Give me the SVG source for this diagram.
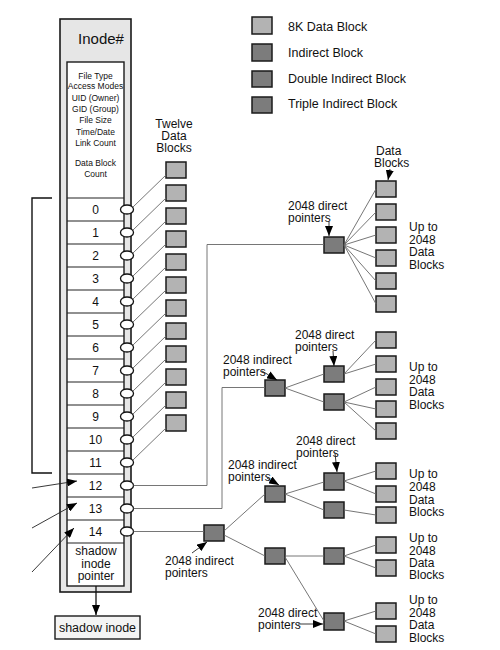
<svg xmlns="http://www.w3.org/2000/svg" width="500" height="650" viewBox="0 0 500 650">
<defs>
<style>
text{font-family:"Liberation Sans Narrow","Arial Narrow","Liberation Sans",Arial,sans-serif;fill:#111}
.lbl{font-size:12px}
.info{font-family:"Liberation Sans",Arial,sans-serif;font-size:8.5px;text-anchor:middle}
.num{font-family:"Liberation Sans",Arial,sans-serif;font-size:12px;text-anchor:middle}
.mid{text-anchor:middle}
.db{fill:#b3b3b3;stroke:#1a1a1a;stroke-width:1.5}
.ib{fill:#7c7c7c;stroke:#1a1a1a;stroke-width:1.5}
.ln{stroke:#666;stroke-width:0.9;fill:none}
.ar{stroke:#222;stroke-width:0.9;fill:none}
.ov{fill:#fff;stroke:#111;stroke-width:1.3}
.row{stroke:#222;stroke-width:1.2}
</style>
<marker id="ah" markerUnits="userSpaceOnUse" markerWidth="11" markerHeight="8" refX="10" refY="4" orient="auto">
<path d="M0,0 L10,4 L0,8 z" fill="#000"/>
</marker>
</defs>
<rect width="500" height="650" fill="#fff"/>

<!-- legend -->
<g id="legend">
<rect class="db" x="252" y="17" width="20" height="17"/>
<rect class="ib" x="252" y="44" width="20" height="17"/>
<rect class="ib" x="252" y="71" width="20" height="16"/>
<rect class="ib" x="252" y="97" width="20" height="16"/>
<text class="lbl" x="288" y="31" style="font-size:12.5px">8K Data Block</text>
<text class="lbl" x="288" y="57" style="font-size:12.5px">Indirect Block</text>
<text class="lbl" x="288" y="83" style="font-size:12.5px">Double Indirect Block</text>
<text class="lbl" x="288" y="108" style="font-size:12.5px">Triple Indirect Block</text>
</g>

<!-- inode -->
<g id="inode">
<rect x="60" y="19" width="71" height="573" fill="#e6e6e6" stroke="#1a1a1a" stroke-width="1.6"/>
<text x="101" y="44" class="mid" style="font-family:'Liberation Sans',Arial,sans-serif;font-size:15px">Inode#</text>
<rect x="67" y="62" width="57" height="524" fill="#fff" stroke="#1a1a1a" stroke-width="1.4"/>
<text class="info"><tspan x="95.5" y="79">File Type</tspan><tspan x="95.5" y="89">Access Modes</tspan><tspan x="95.5" y="101">UID (Owner)</tspan><tspan x="95.5" y="112">GID (Group)</tspan><tspan x="95.5" y="123">File Size</tspan><tspan x="95.5" y="135">Time/Date</tspan><tspan x="95.5" y="146">Link Count</tspan><tspan x="95.5" y="166">Data Block</tspan><tspan x="95.5" y="177">Count</tspan></text>
<g class="row">
<line x1="67" y1="198" x2="124" y2="198"/>
<line x1="67" y1="221" x2="124" y2="221"/>
<line x1="67" y1="244" x2="124" y2="244"/>
<line x1="67" y1="267" x2="124" y2="267"/>
<line x1="67" y1="290" x2="124" y2="290"/>
<line x1="67" y1="313" x2="124" y2="313"/>
<line x1="67" y1="336" x2="124" y2="336"/>
<line x1="67" y1="359" x2="124" y2="359"/>
<line x1="67" y1="382" x2="124" y2="382"/>
<line x1="67" y1="405" x2="124" y2="405"/>
<line x1="67" y1="428" x2="124" y2="428"/>
<line x1="67" y1="451" x2="124" y2="451"/>
<line x1="67" y1="474" x2="124" y2="474"/>
<line x1="67" y1="497" x2="124" y2="497"/>
<line x1="67" y1="520" x2="124" y2="520"/>
<line x1="67" y1="543" x2="124" y2="543"/>
</g>
<text class="num" x="95.5" y="214">0</text>
<text class="num" x="95.5" y="237">1</text>
<text class="num" x="95.5" y="260">2</text>
<text class="num" x="95.5" y="283">3</text>
<text class="num" x="95.5" y="306">4</text>
<text class="num" x="95.5" y="329">5</text>
<text class="num" x="95.5" y="352">6</text>
<text class="num" x="95.5" y="375">7</text>
<text class="num" x="95.5" y="398">8</text>
<text class="num" x="95.5" y="421">9</text>
<text class="num" x="95.5" y="444">10</text>
<text class="num" x="95.5" y="467">11</text>
<text class="num" x="95.5" y="490">12</text>
<text class="num" x="95.5" y="513">13</text>
<text class="num" x="95.5" y="536">14</text>
<text class="lbl mid"><tspan x="96" y="555">shadow</tspan><tspan x="96" y="567.5">inode</tspan><tspan x="96" y="580">pointer</tspan></text>
<g>
<ellipse class="ov" cx="127" cy="209.5" rx="6.5" ry="4.5"/>
<ellipse class="ov" cx="127" cy="232.5" rx="6.5" ry="4.5"/>
<ellipse class="ov" cx="127" cy="255.5" rx="6.5" ry="4.5"/>
<ellipse class="ov" cx="127" cy="278.5" rx="6.5" ry="4.5"/>
<ellipse class="ov" cx="127" cy="301.5" rx="6.5" ry="4.5"/>
<ellipse class="ov" cx="127" cy="324.5" rx="6.5" ry="4.5"/>
<ellipse class="ov" cx="127" cy="347.5" rx="6.5" ry="4.5"/>
<ellipse class="ov" cx="127" cy="370.5" rx="6.5" ry="4.5"/>
<ellipse class="ov" cx="127" cy="393.5" rx="6.5" ry="4.5"/>
<ellipse class="ov" cx="127" cy="416.5" rx="6.5" ry="4.5"/>
<ellipse class="ov" cx="127" cy="439.5" rx="6.5" ry="4.5"/>
<ellipse class="ov" cx="127" cy="462.5" rx="6.5" ry="4.5"/>
<ellipse class="ov" cx="127" cy="485.5" rx="6.5" ry="4.5"/>
<ellipse class="ov" cx="127" cy="508.5" rx="6.5" ry="4.5"/>
<ellipse class="ov" cx="127" cy="531.5" rx="6.5" ry="4.5"/>
</g>
</g>

<g id="shadow-inode">
<rect x="55" y="616" width="85" height="23" fill="#f4f4f4" stroke="#1a1a1a" stroke-width="1.4"/>
<text class="lbl mid" x="97.5" y="632" style="font-size:12.5px">shadow inode</text>
</g>

<!-- direct data blocks -->
<g id="direct-blocks">
<text class="lbl mid"><tspan x="174" y="128">Twelve</tspan><tspan x="174" y="140">Data</tspan><tspan x="174" y="152">Blocks</tspan></text>
<rect class="db" x="166" y="162" width="20" height="16"/>
<rect class="db" x="166" y="185" width="20" height="16"/>
<rect class="db" x="166" y="208" width="20" height="16"/>
<rect class="db" x="166" y="231" width="20" height="16"/>
<rect class="db" x="166" y="254" width="20" height="16"/>
<rect class="db" x="166" y="277" width="20" height="16"/>
<rect class="db" x="166" y="300" width="20" height="16"/>
<rect class="db" x="166" y="323" width="20" height="16"/>
<rect class="db" x="166" y="346" width="20" height="16"/>
<rect class="db" x="166" y="369" width="20" height="16"/>
<rect class="db" x="166" y="392" width="20" height="16"/>
<rect class="db" x="166" y="415" width="20" height="16"/>
</g>

<!-- single indirect -->
<g id="single-indirect">
<rect class="ib" x="324" y="237" width="20" height="16"/>
<text class="lbl"><tspan x="288" y="209.5">2048 direct</tspan><tspan x="288" y="221.5">pointers</tspan></text>
<text class="lbl"><tspan x="376" y="155">Data</tspan><tspan x="374" y="167">Blocks</tspan></text>
<rect class="db" x="376" y="181" width="20" height="16"/>
<rect class="db" x="376" y="204" width="20" height="16"/>
<rect class="db" x="376" y="227" width="20" height="16"/>
<rect class="db" x="376" y="250" width="20" height="16"/>
<rect class="db" x="376" y="273" width="20" height="16"/>
<rect class="db" x="376" y="296" width="20" height="16"/>
<text class="lbl"><tspan x="409" y="231">Up to</tspan><tspan x="409" y="243.5">2048</tspan><tspan x="409" y="256">Data</tspan><tspan x="409" y="268.5">Blocks</tspan></text>
</g>

<!-- double indirect -->
<g id="double-indirect">
<rect class="ib" x="265" y="380" width="20" height="16"/>
<rect class="ib" x="324" y="366" width="20" height="16"/>
<rect class="ib" x="324" y="394" width="20" height="16"/>
<text class="lbl"><tspan x="223" y="364">2048 indirect</tspan><tspan x="223" y="376">pointers</tspan></text>
<text class="lbl"><tspan x="295" y="338.5">2048 direct</tspan><tspan x="295" y="350.5">pointers</tspan></text>
<rect class="db" x="376" y="332" width="20" height="16"/>
<rect class="db" x="376" y="356" width="20" height="16"/>
<rect class="db" x="376" y="379" width="20" height="16"/>
<rect class="db" x="376" y="401" width="20" height="16"/>
<rect class="db" x="376" y="423" width="20" height="16"/>
<text class="lbl"><tspan x="409" y="371">Up to</tspan><tspan x="409" y="383.5">2048</tspan><tspan x="409" y="396">Data</tspan><tspan x="409" y="408.5">Blocks</tspan></text>
</g>

<!-- triple indirect -->
<g id="triple-indirect">
<rect class="ib" x="204" y="525" width="20" height="16"/>
<text class="lbl"><tspan x="165" y="565">2048 indirect</tspan><tspan x="165" y="577">pointers</tspan></text>
<rect class="ib" x="265" y="486" width="20" height="16"/>
<rect class="ib" x="265" y="548" width="20" height="16"/>
<text class="lbl"><tspan x="228" y="468.5">2048 indirect</tspan><tspan x="228" y="480.5">pointers</tspan></text>
<rect class="ib" x="324" y="473" width="20" height="17"/>
<rect class="ib" x="324" y="502" width="20" height="16"/>
<rect class="ib" x="324" y="548" width="20" height="16"/>
<rect class="ib" x="324" y="613" width="20" height="17"/>
<text class="lbl"><tspan x="296" y="445">2048 direct</tspan><tspan x="296" y="456.5">pointers</tspan></text>
<text class="lbl"><tspan x="258" y="616.5">2048 direct</tspan><tspan x="258" y="628.5">pointers</tspan></text>
<rect class="db" x="376" y="463" width="20" height="16"/>
<rect class="db" x="376" y="486" width="20" height="16"/>
<rect class="db" x="376" y="507" width="20" height="16"/>
<rect class="db" x="376" y="537" width="20" height="16"/>
<rect class="db" x="376" y="560" width="20" height="16"/>
<rect class="db" x="376" y="603" width="20" height="16"/>
<rect class="db" x="376" y="626" width="20" height="16"/>
<text class="lbl"><tspan x="409" y="478">Up to</tspan><tspan x="409" y="490.5">2048</tspan><tspan x="409" y="503.5">Data</tspan><tspan x="409" y="516">Blocks</tspan></text>
<text class="lbl"><tspan x="409" y="542">Up to</tspan><tspan x="409" y="554.5">2048</tspan><tspan x="409" y="566.5">Data</tspan><tspan x="409" y="579">Blocks</tspan></text>
<text class="lbl"><tspan x="409" y="604">Up to</tspan><tspan x="409" y="616.5">2048</tspan><tspan x="409" y="629">Data</tspan><tspan x="409" y="641.5">Blocks</tspan></text>
</g>

<!-- connectors -->
<g id="connectors">
<g class="ln">
<line x1="133" y1="207" x2="166" y2="175"/>
<line x1="133" y1="230" x2="166" y2="198"/>
<line x1="133" y1="253" x2="166" y2="221"/>
<line x1="133" y1="276" x2="166" y2="244"/>
<line x1="133" y1="299" x2="166" y2="267"/>
<line x1="133" y1="322" x2="166" y2="290"/>
<line x1="133" y1="345" x2="166" y2="313"/>
<line x1="133" y1="368" x2="166" y2="336"/>
<line x1="133" y1="391" x2="166" y2="359"/>
<line x1="133" y1="414" x2="166" y2="382"/>
<line x1="133" y1="437" x2="166" y2="405"/>
<line x1="133" y1="460" x2="166" y2="428"/>
<polyline points="133.5,485.5 207,485.5 207,244.5 324,244.5"/>
<line x1="344" y1="245" x2="376" y2="189"/>
<line x1="344" y1="245" x2="376" y2="212"/>
<line x1="344" y1="245" x2="376" y2="235"/>
<line x1="344" y1="245" x2="376" y2="258"/>
<line x1="344" y1="245" x2="376" y2="281"/>
<line x1="344" y1="245" x2="376" y2="304"/>
<polyline points="133.5,508.5 222,508.5 222,387.5 265,387.5"/>
<line x1="285" y1="388" x2="324" y2="374"/>
<line x1="285" y1="388" x2="324" y2="402"/>
<line x1="344" y1="374" x2="376" y2="340"/>
<line x1="344" y1="374" x2="376" y2="364"/>
<line x1="344" y1="402" x2="376" y2="387"/>
<line x1="344" y1="402" x2="376" y2="409"/>
<line x1="344" y1="402" x2="376" y2="431"/>
<line x1="133.5" y1="531.5" x2="204" y2="531.5"/>
<line x1="224" y1="531" x2="265" y2="494"/>
<line x1="224" y1="535" x2="265" y2="556"/>
<line x1="285" y1="494" x2="324" y2="482"/>
<line x1="285" y1="494" x2="324" y2="510"/>
<line x1="285" y1="556" x2="324" y2="556"/>
<line x1="285" y1="557" x2="324" y2="621"/>
<line x1="344" y1="481" x2="376" y2="471"/>
<line x1="344" y1="481" x2="376" y2="494"/>
<line x1="344" y1="510" x2="376" y2="515"/>
<line x1="344" y1="556" x2="376" y2="545"/>
<line x1="344" y1="556" x2="376" y2="568"/>
<line x1="344" y1="621" x2="376" y2="611"/>
<line x1="344" y1="621" x2="376" y2="634"/>
</g>
<polyline points="52,198 32,198 32,473 52,473" fill="none" stroke="#111" stroke-width="1.4"/>
<g class="ar">
<line x1="32" y1="488" x2="77" y2="481" marker-end="url(#ah)"/>
<line x1="32" y1="528" x2="77" y2="503" marker-end="url(#ah)"/>
<line x1="32" y1="572" x2="74" y2="528" marker-end="url(#ah)"/>
<line x1="96" y1="586" x2="96" y2="615" stroke="#111" stroke-width="1.3" marker-end="url(#ah)"/>
<line x1="329" y1="222" x2="329" y2="236" marker-end="url(#ah)"/>
<line x1="390" y1="169" x2="388" y2="180" marker-end="url(#ah)"/>
<line x1="262" y1="371" x2="277" y2="380" marker-end="url(#ah)"/>
<line x1="333" y1="351" x2="334" y2="366" marker-end="url(#ah)"/>
<line x1="192" y1="553" x2="207" y2="542" marker-end="url(#ah)"/>
<line x1="267" y1="478" x2="279" y2="485" marker-end="url(#ah)"/>
<line x1="335" y1="453" x2="337" y2="472" marker-end="url(#ah)"/>
<line x1="298" y1="624" x2="323" y2="624" marker-end="url(#ah)"/>
</g>
</g>
</svg>
